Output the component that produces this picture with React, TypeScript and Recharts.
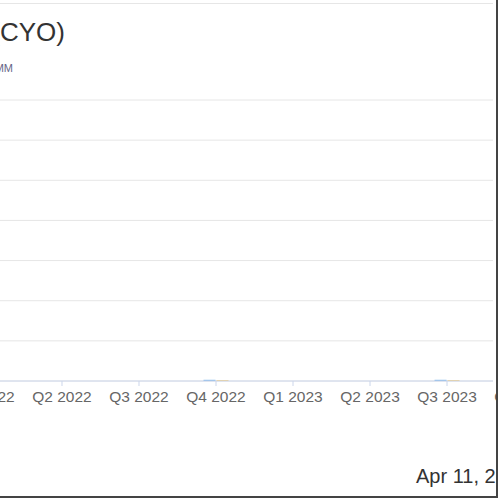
import React from 'react';
import { ComposedChart, Bar, XAxis, YAxis, CartesianGrid } from 'recharts';

const quarterLabels = ['Q1 2022', 'Q2 2022', 'Q3 2022', 'Q4 2022', 'Q1 2023', 'Q2 2023', 'Q3 2023', 'Q4 2023', 'Q1 2024'];
const quarterIndex = [0, 1, 2, 3, 4, 5, 6, 7, 8];
const revenueValues = [0, 0, 0, 0.03, 0, 0, 0.03, 0, 0];
const earningsValues = [0, 0, 0, 0.02, 0, 0, 0.02, 0, 0];
const yTicks = [0, 1, 2, 3, 4, 5, 6, 7];

const data = quarterIndex.map((x, i) => ({ x, revenue: revenueValues[i], earnings: earningsValues[i] }));

export default function App() {
  return (
    <div style={{ position: 'fixed', left: 0, top: 0, width: 500, height: 500, overflow: 'hidden', background: '#fff', fontFamily: 'Liberation Sans, Arial, sans-serif' }}>
      <div style={{ position: 'absolute', left: -100, top: 0 }}>
        <ComposedChart width={700} height={500} data={data} margin={{ top: 100, right: 107, left: 100, bottom: 89 }} barGap={1}>
          <CartesianGrid horizontal vertical={false} stroke="#e6e6e6" />
          <YAxis hide type="number" domain={[0, 7]} ticks={yTicks} allowDataOverflow />
          <XAxis
            dataKey="x"
            type="number"
            domain={[0.195, 6.597]}
            ticks={quarterIndex}
            interval={0}
            allowDataOverflow
            height={30}
            tickFormatter={(v: number) => quarterLabels[v] ?? ''}
            tick={{ fontSize: 15.5, fill: '#666666', fontFamily: 'Liberation Sans, Arial, sans-serif' }}
            tickSize={5}
            tickMargin={5}
            axisLine={{ stroke: '#ccd6eb' }}
            tickLine={{ stroke: '#ccd6eb' }}
          />
          <Bar dataKey="revenue" fill="#7cb5ec" barSize={12} isAnimationActive={false} />
          <Bar dataKey="earnings" fill="#f7c35c" barSize={12} isAnimationActive={false} />
        </ComposedChart>
      </div>
      <svg width={500} height={500} style={{ position: 'absolute', left: 0, top: 0, pointerEvents: 'none' }}>
        <line x1={0} x2={493} y1={3.5} y2={3.5} stroke="#e6e6e6" strokeWidth={1} />
        <text x={65} y={41} textAnchor="end" fontSize={26} fill="#333333" fontFamily="Liberation Sans, Arial, sans-serif">(CYO)</text>
        <text x={13} y={72} textAnchor="end" fontSize={11} fill="#666688" fontFamily="Liberation Sans, Arial, sans-serif">MM</text>
        <text x={416} y={483} fontSize={20} fill="#333333" fontFamily="Liberation Sans, Arial, sans-serif">Apr 11, 2024</text>
        <rect x={497} y={0} width={3} height={500} fill="#ffffff" />
        <line x1={497} x2={497} y1={0} y2={498} stroke="#444444" strokeWidth={2} />
        <line x1={0} x2={498} y1={497} y2={497} stroke="#444444" strokeWidth={2} />
      </svg>
    </div>
  );
}
